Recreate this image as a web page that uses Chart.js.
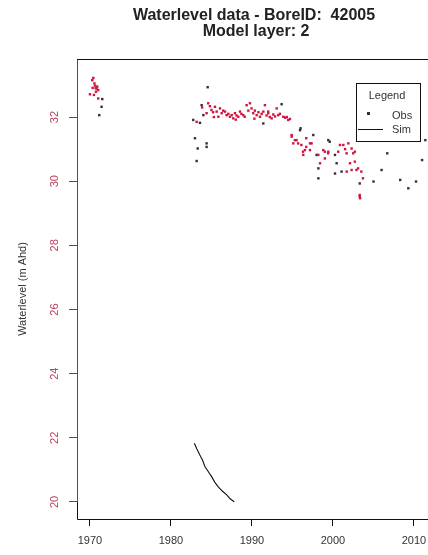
<!DOCTYPE html>
<html>
<head>
<meta charset="utf-8">
<script src="https://cdn.jsdelivr.net/npm/chart.js@4"></script>
<style>
  html, body { margin: 0; padding: 0; background: #fff; overflow: hidden; }
</style>
</head>
<body>
<canvas id="chart" width="428" height="555"></canvas>
<script>
// observed water levels (decimal year, m AHD)
const obsYear = [
  1970.41, 1970.28, 1970.62, 1970.55, 1970.33, 1970.83, 1971.02, 1970.74, 1970.0, 1970.49,
  1971.02, 1971.52, 1971.44, 1971.15, 1970.9, 1970.7,
  1982.75, 1983.17, 1983.58, 1982.96, 1983.3, 1983.17, 1984.4, 1984.4, 1983.79, 1983.85,
  1984.0, 1984.4, 1984.53, 1984.6, 1984.81,
  1985.0, 1985.2, 1985.3, 1985.43, 1985.64, 1985.85, 1986.05, 1986.26, 1986.45, 1986.67,
  1986.87, 1987.08, 1987.28, 1987.5, 1987.69, 1987.9, 1988.0, 1988.1, 1988.31, 1988.52,
  1988.7, 1988.93, 1989.1, 1989.34, 1989.55, 1989.75, 1989.95, 1990.16, 1990.3, 1990.35,
  1990.58, 1990.8, 1990.99, 1991.2, 1991.4, 1991.4, 1991.6, 1991.8, 1992.0, 1992.0,
  1992.2, 1992.43, 1992.63, 1992.85, 1993.05, 1993.25, 1993.45, 1993.66, 1993.87, 1994.1,
  1994.3, 1994.48, 1994.69,
  1994.9, 1994.9, 1995.1, 1995.3, 1995.5, 1995.7, 1995.93, 1996.0, 1996.1, 1996.3,
  1996.33, 1996.54, 1996.7, 1996.7, 1997.16, 1997.16, 1997.36, 1997.57, 1997.98, 1998.19,
  1998.2, 1998.2, 1998.4, 1998.8, 1999.0, 1999.0, 1999.42, 1999.42, 1999.6, 1999.4,
  2000.25, 2000.25, 2000.45, 2000.65, 2000.86, 2001.06, 2001.27, 2001.5, 2001.68, 2001.7,
  2001.9, 2002.1, 2002.3, 2002.3, 2002.5, 2002.7, 2002.7, 2002.9, 2003.1, 2003.3,
  2003.3, 2003.3, 2003.35, 2003.5, 2003.7,
  2005.0, 2006.0, 2006.7, 2008.3, 2009.3, 2010.25, 2011.0, 2011.4
];
const obsLevel = [
  33.22, 33.15, 32.98, 33.05, 32.91, 32.89, 32.84, 32.79, 32.71, 32.69,
  32.58, 32.56, 32.32, 32.06, 32.95, 32.90,
  31.91, 31.85, 31.82, 31.34, 31.02, 30.63, 31.18, 31.07, 32.37, 32.30,
  32.06, 32.12, 32.93, 32.43, 32.34,
  32.22, 32.15, 32.00, 32.32, 32.17, 32.01, 32.27, 32.12, 32.20, 32.17,
  32.06, 32.10, 32.01, 32.06, 31.96, 32.12, 31.92, 32.05, 32.01, 32.17,
  32.10, 32.06, 32.01, 32.37, 32.20, 32.43, 32.27, 32.12, 31.95, 32.20,
  32.06, 32.15, 32.01, 32.10, 32.17, 31.80, 32.37, 32.05, 32.12, 32.17,
  32.00, 31.96, 32.08, 32.02, 32.27, 32.06, 32.10, 32.40, 32.01, 31.98,
  32.00, 31.91, 31.94,
  31.44, 31.39, 31.18, 31.28, 31.28, 31.18, 31.59, 31.65, 31.13, 30.92,
  30.82, 30.97, 31.07, 31.34, 31.18, 30.97, 31.18, 31.44, 30.82, 30.82,
  30.40, 30.09, 30.56, 30.97, 30.71, 30.92, 31.28, 30.92, 31.23, 30.87,
  30.82, 30.24, 30.56, 30.92, 31.13, 30.30, 31.13, 31.00, 30.87, 30.30,
  31.18, 30.56, 31.02, 30.35, 30.87, 30.92, 30.61, 30.35, 30.40, 29.93,
  29.57, 29.52, 29.47, 30.30, 30.09,
  29.99, 30.35, 30.87, 30.04, 29.78, 29.99, 30.66, 31.28
];

// simulated level for model layer 2
const simYear = [1982.88, 1983.2, 1983.58, 1983.9, 1984.2, 1984.6, 1985.02, 1985.4, 1985.84, 1986.3, 1986.88, 1987.3, 1987.81];
const simLevel = [21.83, 21.65, 21.46, 21.30, 21.10, 20.95, 20.79, 20.62, 20.47, 20.35, 20.22, 20.10, 20.01];

const xTicks = [1970, 1980, 1990, 2000, 2010];
const yTicks = [20, 22, 24, 26, 28, 30, 32];
const titleLines = ['Waterlevel data - BoreID:  42005', 'Model layer: 2'];

const RED = '#d0143c';
const DARK = '#3a2c34';

// points sitting in a dense band come out red, isolated ones dark
const crowd = obsYear.map((yr, i) => {
  let n = 0;
  obsYear.forEach((yr2, j) => {
    if (j !== i && Math.abs(yr2 - yr) < 0.7 && Math.abs(obsLevel[j] - obsLevel[i]) < 0.22) n++;
  });
  return n;
});

const obsPoints = obsYear.map((x, i) => ({x: x, y: obsLevel[i]}));
const simPoints = simYear.map((x, i) => ({x: x, y: simLevel[i]}));

const frame = {
  id: 'frame',
  afterDraw(chart) {
    const ctx = chart.ctx;
    const a = chart.chartArea;
    const ys = chart.scales.y;
    ctx.save();
    // top border and bottom-left corner piece in black
    ctx.strokeStyle = '#111';
    ctx.lineWidth = 1;
    ctx.beginPath();
    ctx.moveTo(a.left, a.top + 0.5);
    ctx.lineTo(a.right, a.top + 0.5);
    ctx.moveTo(a.left + 0.5, ys.getPixelForValue(20));
    ctx.lineTo(a.left + 0.5, a.bottom);
    ctx.stroke();

    // title
    ctx.fillStyle = '#222';
    ctx.font = 'bold 16px "Liberation Sans", Arial, sans-serif';
    ctx.textAlign = 'center';
    ctx.textBaseline = 'alphabetic';
    ctx.fillText(titleLines[0], 254, 20);
    ctx.fillText(titleLines[1], 256, 36);

    // legend box
    ctx.fillStyle = '#fff';
    ctx.fillRect(356, 83, 65, 59);
    ctx.strokeStyle = '#111';
    ctx.strokeRect(356.5, 83.5, 64, 58);
    ctx.fillStyle = '#333';
    ctx.font = '11px "Liberation Sans", Arial, sans-serif';
    ctx.textBaseline = 'middle';
    ctx.fillText('Legend', 387, 96);
    ctx.textAlign = 'left';
    ctx.fillText('Obs', 392, 116);
    ctx.fillText('Sim', 392, 130);
    ctx.fillStyle = DARK;
    ctx.fillRect(367, 112, 3, 3);
    ctx.strokeStyle = '#111';
    ctx.beginPath();
    ctx.moveTo(358, 129.5);
    ctx.lineTo(383, 129.5);
    ctx.stroke();
    ctx.restore();
  }
};

new Chart(document.getElementById('chart'), {
  type: 'scatter',
  data: {
    datasets: [
      {
        label: 'Obs',
        data: obsPoints,
        pointStyle: 'rect',
        pointRadius: 1.7,
        pointBorderWidth: 0,
        pointBackgroundColor: c => crowd[c.dataIndex] >= 2 ? RED : DARK
      },
      {
        label: 'Sim',
        data: simPoints,
        showLine: true,
        borderColor: '#111',
        borderWidth: 1.1,
        pointRadius: 0
      }
    ]
  },
  options: {
    responsive: false,
    animation: false,
    layout: { autoPadding: false, padding: { top: 59, left: 0, right: 0, bottom: 0 } },
    plugins: { legend: { display: false }, tooltip: { enabled: false } },
    scales: {
      x: {
        type: 'linear',
        min: 1968.4,
        max: 2011.73,
        afterBuildTicks: s => { s.ticks = xTicks.map(v => ({value: v})); },
        afterFit: s => { s.height = 36; s.paddingLeft = 0; s.paddingRight = 0; },
        grid: { drawOnChartArea: false, drawTicks: true, tickLength: 7, color: '#111' },
        border: { color: '#111', width: 1 },
        ticks: {
          color: '#333',
          padding: 8,
          maxRotation: 0,
          font: { family: '"Liberation Sans", Arial, sans-serif', size: 11 },
          callback: v => String(v)
        }
      },
      y: {
        type: 'linear',
        min: 19.47,
        max: 33.81,
        afterBuildTicks: s => { s.ticks = yTicks.map(v => ({value: v})); },
        afterFit: s => { s.width = 77; s.paddingTop = 0; s.paddingBottom = 0; },
        grid: { drawOnChartArea: false, drawTicks: true, tickLength: 8, color: RED },
        border: { color: RED, width: 1 },
        ticks: {
          color: '#b8405a',
          padding: 8,
          minRotation: 90,
          maxRotation: 90,
          crossAlign: 'center',
          font: { family: '"Liberation Sans", Arial, sans-serif', size: 11 }
        },
        title: {
          display: true,
          text: 'Waterlevel (m Ahd)',
          color: '#333',
          padding: { top: 16, bottom: 0 },
          font: { family: '"Liberation Sans", Arial, sans-serif', size: 11 }
        }
      }
    }
  },
  plugins: [frame]
});
</script>
</body>
</html>
